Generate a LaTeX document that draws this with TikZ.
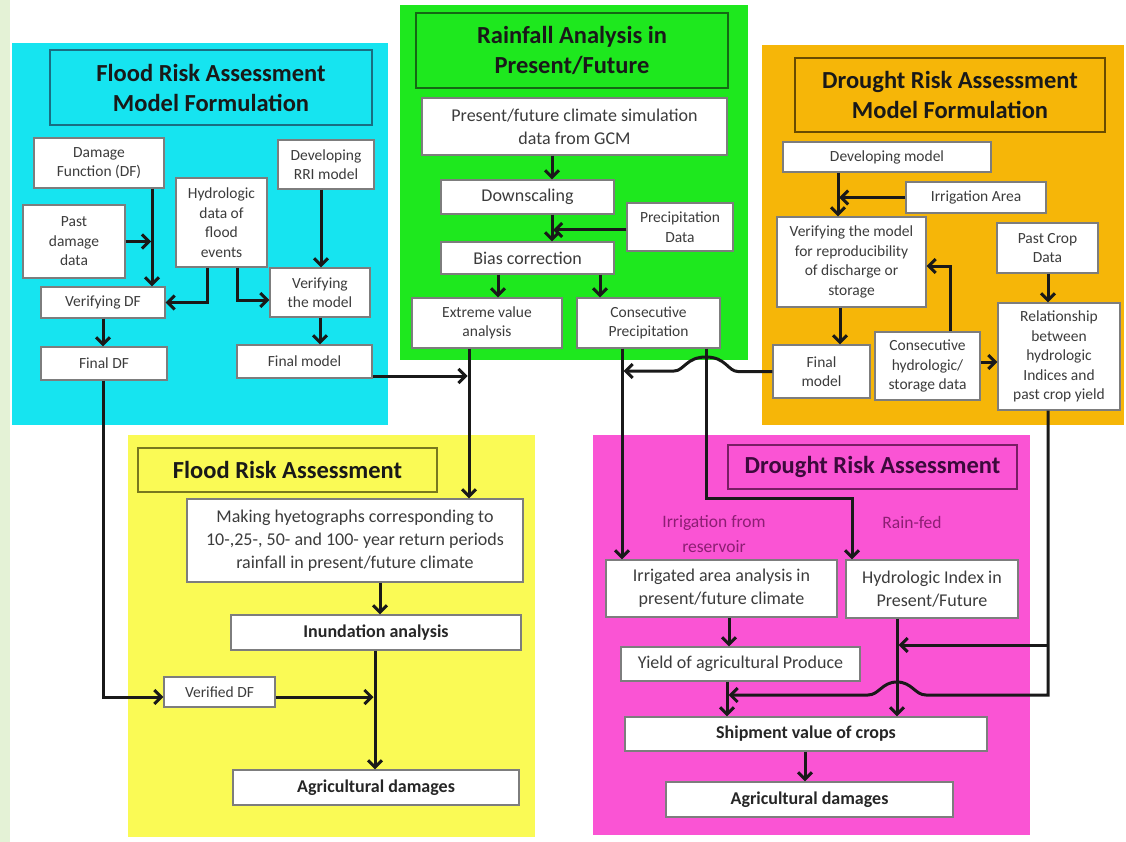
\documentclass[tikz,border=0pt]{standalone}
\usepackage{fontspec}
\setmainfont{Carlito}
\usetikzlibrary{arrows.meta}

\definecolor{stripG}{RGB}{228,242,214}
\definecolor{cyanP}{RGB}{22,228,240}
\definecolor{cyanB}{RGB}{25,110,130}
\definecolor{greenP}{RGB}{30,232,30}
\definecolor{greenB}{RGB}{20,105,20}
\definecolor{orangeP}{RGB}{246,182,8}
\definecolor{orangeB}{RGB}{105,75,0}
\definecolor{yellowP}{RGB}{250,250,85}
\definecolor{yellowB}{RGB}{120,120,30}
\definecolor{pinkP}{RGB}{250,84,212}
\definecolor{pinkB}{RGB}{120,30,100}
\definecolor{pinkT}{RGB}{60,10,60}
\definecolor{noteC}{RGB}{140,30,115}
\definecolor{boxgray}{RGB}{125,125,125}
\definecolor{txtgray}{RGB}{60,60,60}

\begin{document}
\begin{tikzpicture}[x=1pt,y=-1pt,
  wbox/.style={draw=boxgray, line width=1.2pt, fill=white, inner sep=0pt,
    align=center, text=txtgray, font=\fontsize{15.5}{19.5}\selectfont},
  big/.style={font=\fontsize{18}{23}\selectfont},
  bigb/.style={font=\fontsize{18}{23}\selectfont\bfseries, text=black!85},
  ttl/.style={line width=1.5pt, inner sep=0pt, align=center, text=black!90,
    font=\fontsize{24.5}{30}\selectfont\bfseries},
  note/.style={inner sep=0pt, align=center, text=noteC,
    font=\fontsize{17.5}{25}\selectfont},
  link/.style={line width=3pt, draw=black!90},
  flow/.style={link, -{Straight Barb[length=7pt,width=14pt]}}]

\useasboundingbox (0,0) rectangle (1126,842);
\fill[white] (0,0) rectangle (1126,842);
\fill[stripG] (0,0) rectangle (10,842);

% coloured panels
\fill[cyanP] (12,43) rectangle (388,425);
\fill[greenP] (400,5) rectangle (748,360);
\fill[orangeP] (762,45) rectangle (1124,425);
\fill[yellowP] (128,435) rectangle (535,837);
\fill[pinkP] (593,435) rectangle (1030,835);

% flood risk assessment model formulation
\node[ttl, draw=cyanB, fill=cyanP, minimum width=322, minimum height=75] (fTitle) at (211,87.5) {Flood Risk Assessment\\Model Formulation};
\node[wbox, minimum width=130, minimum height=50] (dmgF) at (99,163) {Damage\\Function (DF)};
\node[wbox, minimum width=102, minimum height=73] (pastDmg) at (74,241.5) {Past\\damage\\data};
\node[wbox, minimum width=91, minimum height=89] (hydData) at (221.5,222.5) {Hydrologic\\data of\\flood\\events};
\node[wbox, minimum width=96, minimum height=49] (rri) at (326,164.5) {Developing\\RRI model};
\node[wbox, minimum width=124, minimum height=31] (verDF) at (103,302.5) {Verifying DF};
\node[wbox, minimum width=100, minimum height=49] (verModel) at (320,292.5) {Verifying\\the model};
\node[wbox, minimum width=126, minimum height=33] (finalDF) at (104,363.5) {Final DF};
\node[wbox, minimum width=135, minimum height=33] (finalModel) at (304.5,361.5) {Final model};

% rainfall analysis
\node[ttl, draw=greenB, fill=greenP, minimum width=312, minimum height=75] (rTitle) at (572,50.5) {Rainfall Analysis in\\Present/Future};
\node[wbox, big, minimum width=305, minimum height=57] (gcm) at (574.5,126.5) {Present/future climate simulation\\data from GCM};
\node[wbox, big, minimum width=173, minimum height=34] (downsc) at (527.5,197) {Downscaling};
\node[wbox, minimum width=106, minimum height=48] (precip) at (680,227) {Precipitation\\Data};
\node[wbox, big, minimum width=173, minimum height=32] (bias) at (527.5,258) {Bias correction};
\node[wbox, minimum width=150, minimum height=50] (extreme) at (487,323) {Extreme value\\analysis};
\node[wbox, minimum width=143, minimum height=50] (consec) at (648.5,323) {Consecutive\\Precipitation};

% drought risk assessment model formulation
\node[ttl, draw=orangeB, fill=orangeP, minimum width=310, minimum height=74] (dTitle) at (950,95) {Drought Risk Assessment\\Model Formulation};
\node[wbox, minimum width=208, minimum height=30] (devModel) at (887,157) {Developing model};
\node[wbox, minimum width=140, minimum height=31] (irrArea) at (976,197.5) {Irrigation Area};
\node[wbox, minimum width=149, minimum height=90] (verRepro) at (851.5,262) {Verifying the model\\for reproducibility\\of discharge or\\storage};
\node[wbox, minimum width=101, minimum height=50] (pastCrop) at (1047.5,248) {Past Crop\\Data};
\node[wbox, minimum width=122, minimum height=107] (relation) at (1059,356.5) {Relationship\\between\\hydrologic\\Indices and\\past crop yield};
\node[wbox, minimum width=97, minimum height=53] (dFinal) at (821.5,371.5) {Final\\model};
\node[wbox, minimum width=105, minimum height=68] (consHyd) at (927.5,366) {Consecutive\\hydrologic/\\storage data};

% flood risk assessment
\node[ttl, draw=yellowB, fill=yellowP, minimum width=299, minimum height=44] (yTitle) at (287.5,470) {Flood Risk Assessment};
\node[wbox, big, minimum width=336, minimum height=83] (hyeto) at (355,540.5) {Making hyetographs corresponding to\\10-,25-, 50- and 100- year return periods\\rainfall in present/future climate};
\node[wbox, bigb, minimum width=290, minimum height=35] (inund) at (376,632.5) {Inundation analysis};
\node[wbox, minimum width=111, minimum height=30] (verifiedDF) at (219.5,692) {Verified DF};
\node[wbox, bigb, minimum width=286, minimum height=35] (yAgri) at (376,787.5) {Agricultural damages};

% drought risk assessment
\node[ttl, draw=pinkB, fill=pinkP, text=pinkT, minimum width=289, minimum height=44] (pTitle) at (872.5,467) {Drought Risk Assessment};
\node[note] (irrNote) at (714,534) {Irrigation from\\reservoir};
\node[note] (rainNote) at (912,522) {Rain-fed};
\node[wbox, big, minimum width=231, minimum height=57] (irrig) at (721.5,588.5) {Irrigated area analysis in\\present/future climate};
\node[wbox, big, minimum width=172, minimum height=58] (hydIdx) at (932,589) {Hydrologic Index in\\Present/Future};
\node[wbox, big, minimum width=239, minimum height=34] (yield) at (740.5,664) {Yield of agricultural Produce};
\node[wbox, bigb, minimum width=362, minimum height=34] (ship) at (806,734) {Shipment value of crops};
\node[wbox, bigb, minimum width=287, minimum height=35] (pAgri) at (809.5,799.5) {Agricultural damages};

% connectors: flood model formulation
\draw[flow] (152,0 |- dmgF.south) -- (152,0 |- verDF.north);
\draw[flow] (pastDmg.east) -- (pastDmg.east -| 151,0);
\draw[flow] (207,0 |- hydData.south) |- (verDF.east);
\draw[flow] (237,0 |- hydData.south) |- (verModel.west |- 0,300);
\draw[flow] (321,0 |- rri.south) -- (321,0 |- verModel.north);
\draw[flow] (103,0 |- verDF.south) -- (103,0 |- finalDF.north);
\draw[flow] (320,0 |- verModel.south) -- (320,0 |- finalModel.north);

% connectors: rainfall analysis
\draw[flow] (552,0 |- gcm.south) -- (552,0 |- downsc.north);
\draw[flow] (552,0 |- downsc.south) -- (552,0 |- bias.north);
\draw[flow] (precip.west |- 0,230) -- (553,230);
\draw[flow] (498,0 |- bias.south) -- (498,0 |- extreme.north);
\draw[flow] (600,0 |- bias.south) -- (600,0 |- consec.north);

% connectors: drought model formulation
\draw[flow] (838,0 |- devModel.south) -- (838,0 |- verRepro.north);
\draw[flow] (irrArea.west) -- (irrArea.west -| 839,0);
\draw[flow] (840,0 |- verRepro.south) -- (840,0 |- dFinal.north);
\draw[flow] (950,0 |- consHyd.north) |- (verRepro.east |- 0,266);
\draw[flow] (consHyd.east |- 0,362) -- (relation.west |- 0,362);
\draw[flow] (1048,0 |- pastCrop.south) -- (1048,0 |- relation.north);

% connectors between the panels
\draw[flow] (finalModel.east |- 0,376) -- (467.5,376);
\draw[flow] (469,0 |- extreme.south) -- (469,0 |- hyeto.north);
\draw[flow] (622,0 |- consec.south) -- (622,0 |- irrig.north);
\draw[flow] (706,0 |- consec.south) |- (852,498) -- (852,0 |- hydIdx.north);
\draw[flow] (dFinal.west) -- (738,371.5) .. controls (728,371.5) and (726,357) .. (706,357)
  .. controls (686,357) and (684,371) .. (674,371) -- (623.5,371);
\draw[flow] (103,0 |- finalDF.south) |- (verifiedDF.west |- 0,697);

% connectors: flood risk assessment
\draw[flow] (380,0 |- hyeto.south) -- (380,0 |- inund.north);
\draw[flow] (375,0 |- inund.south) -- (375,0 |- yAgri.north);
\draw[flow] (verifiedDF.east |- 0,697) -- (373.5,697);

% connectors: drought risk assessment
\draw[flow] (729,0 |- irrig.south) -- (729,0 |- yield.north);
\draw[flow] (897,0 |- hydIdx.south) -- (897,0 |- ship.north);
\draw[flow] (727,0 |- yield.south) -- (727,0 |- ship.north);
\draw[flow] (805,0 |- ship.south) -- (805,0 |- pAgri.north);
\draw[flow] (1048,0 |- relation.south) -- (1048,695) -- (926,695)
  .. controls (915,695) and (912,682) .. (897,682)
  .. controls (882,682) and (879,695) .. (868,695) -- (728.5,695);
\draw[flow] (1048,645) -- (898.5,645);
\end{tikzpicture}
\end{document}
